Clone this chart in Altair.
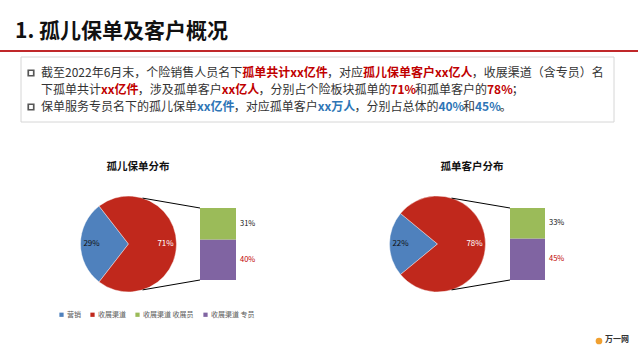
import math
import altair as alt
import pandas as pd

W, H = 638, 360
FONT = "Noto Sans CJK SC"

# ---------------- data ----------------
title_text = "1. 孤儿保单及客户概况"
categories = ["营销", "收展渠道", "收展渠道 收展员", "收展渠道 专员"]
palette = ["#4F81BD", "#C0281C", "#9BBB59", "#8064A2"]

pie_titles = ["孤儿保单分布", "孤单客户分布"]
pie_values = [[29, 71], [22, 78]]      # 营销, 收展渠道
bar_values = [[31, 40], [33, 45]]      # 收展渠道 收展员, 收展渠道 专员

para_lines = [
    [("截至2022年6月末，个险销售人员名下", "n"), ("孤单共计xx亿件", "r"), ("，对应", "n"),
     ("孤儿保单客户xx亿人", "r"), ("，收展渠道（含专员）名", "n")],
    [("下孤单共计", "n"), ("xx亿件", "r"), ("，涉及孤单客户", "n"), ("xx亿人", "r"),
     ("，分别占个险板块孤单的", "n"), ("71%", "r"), ("和孤单客户的", "n"), ("78%", "r"), ("；", "n")],
    [("保单服务专员名下的孤儿保单", "n"), ("xx亿件", "b"), ("，对应孤单客户", "n"), ("xx万人", "b"),
     ("，分别占总体的", "n"), ("40%", "b"), ("和", "n"), ("45%", "b"), ("。", "n")],
]
bullet_lines = [0, 2]
logo_text = "万一网"

# ---------------- layout ----------------
TEXT_X0 = 41
LINE_Y = [73, 90, 107]
FS = 12
KIND_STYLE = {"n": ("#333333", "normal"), "r": ("#C00000", "bold"), "b": ("#2E75B6", "bold")}

CENTERS = [(128.5, 244), (437.5, 244)]
R = 48
BAR_X = [(200, 236), (510, 545)]
BAR_TOP, BAR_BOT = 208, 280
LEGEND_X = [58, 368]
LEGEND_Y = 311
TITLE_POS = [(138, 167), (472, 167)]


def one(**kw):
    d = {"k": [0]}
    for key, val in kw.items():
        d[key] = [val]
    return pd.DataFrame(d)


def text_width(s, fs, bold):
    w = 0.0
    for ch in s:
        if ord(ch) >= 0x2E80:
            w += 1.0
        elif ch.isdigit():
            w += 0.575 if bold else 0.555
        elif ch == "x":
            w += 0.53 if bold else 0.49
        elif ch == "%":
            w += 0.9 if bold else 0.88
        elif ch == " ":
            w += 0.25
        else:
            w += 0.55
    return w * fs


layers = []

# title and red rule
layers.append(
    alt.Chart(one(t=title_text)).mark_text(
        align="left", baseline="middle", font=FONT, fontSize=21, fontWeight="bold", color="#111111"
    ).encode(x=alt.value(15), y=alt.value(32), text="t:N")
)
layers.append(
    alt.Chart(one()).mark_rule(color="#C0282A", strokeWidth=2).encode(
        x=alt.value(0), x2=alt.value(W), y=alt.value(51)
    )
)

# text box
layers.append(
    alt.Chart(one()).mark_rect(fill="#FFFFFF", stroke="#D6D6D6", strokeWidth=1).encode(
        x=alt.value(21), x2=alt.value(614), y=alt.value(57), y2=alt.value(122)
    )
)
for li in bullet_lines:
    layers.append(
        alt.Chart(one()).mark_point(shape="square", filled=False, size=30, stroke="#111111",
                                    strokeWidth=1.7).encode(x=alt.value(31), y=alt.value(LINE_Y[li]))
    )

for li, line in enumerate(para_lines):
    x = TEXT_X0
    for s, kind in line:
        col, wt = KIND_STYLE[kind]
        layers.append(
            alt.Chart(one(t=s)).mark_text(
                align="left", baseline="middle", font=FONT, fontSize=FS, fontWeight=wt, color=col
            ).encode(x=alt.value(x), y=alt.value(LINE_Y[li]), text="t:N")
        )
        x += text_width(s, FS, wt == "bold")

# pies, bars, connectors
yscale = alt.Scale(domain=[0, 1], range=[BAR_BOT, BAR_TOP], nice=False, zero=False)
cscale = alt.Scale(domain=categories, range=palette)

for i in range(2):
    cx, cy = CENTERS[i]
    field = "cat" if i == 0 else "cat2"
    chan = "color" if i == 0 else "fill"
    Ch = alt.Color if i == 0 else alt.Fill
    legend = alt.Legend(
        orient="none", legendX=LEGEND_X[i], legendY=LEGEND_Y, direction="horizontal", title=None,
        symbolType="square", symbolSize=18, symbolStrokeWidth=0, labelFontSize=7, labelFont=FONT,
        labelColor="#595959", columnPadding=8, labelOffset=2, padding=0
    )

    # pie title
    tx, ty = TITLE_POS[i]
    layers.append(
        alt.Chart(one(t=pie_titles[i])).mark_text(
            align="center", baseline="middle", font=FONT, fontSize=10.5, fontWeight="bold", color="#111111"
        ).encode(x=alt.value(tx), y=alt.value(ty), text="t:N")
    )

    vals = pie_values[i]
    pdf = pd.DataFrame({field: categories[:2], "v": vals, "ord": [0, 1],
                        "lab": [f"{v}%" for v in vals]})
    f = vals[0] / sum(vals)
    a0 = 1.5 * math.pi - f * math.pi
    theta = alt.Theta("v:Q", stack=True, scale=alt.Scale(range=[a0, a0 + 2 * math.pi]))
    layers.append(
        alt.Chart(pdf).mark_arc(outerRadius=R, stroke="white", strokeWidth=0.4).encode(
            theta=theta, order=alt.Order("ord:Q"), x=alt.value(cx), y=alt.value(cy),
            **{chan: Ch(f"{field}:N", scale=cscale, legend=legend)}
        )
    )
    layers.append(
        alt.Chart(pdf).mark_text(radius=37, font=FONT, fontSize=8, baseline="middle").encode(
            theta=theta, order=alt.Order("ord:Q"), x=alt.value(cx), y=alt.value(cy), text="lab:N",
            color=alt.condition(f"datum.{field} == '{categories[0]}'", alt.value("#111111"), alt.value("white"))
        )
    )

    # stacked bar (专员 at bottom, 收展员 on top)
    bv = bar_values[i]
    tot = sum(bv)
    bcats = [categories[3], categories[2]]
    bvals = [bv[1], bv[0]]
    y0, acc = [], 0
    for v in bvals:
        y0.append(acc / tot)
        acc += v
    y1 = [y0[1], acc / tot]
    bdf = pd.DataFrame({field: bcats, "v": bvals, "y0": y0, "y1": y1,
                        "mid": [(a + b) / 2 for a, b in zip(y0, y1)],
                        "lab": [f"{v}%" for v in bvals]})
    bx0, bx1 = BAR_X[i]
    layers.append(
        alt.Chart(bdf).mark_rect().encode(
            x=alt.value(bx0), x2=alt.value(bx1),
            y=alt.Y("y0:Q", scale=yscale, axis=None), y2="y1:Q",
            **{chan: Ch(f"{field}:N", scale=cscale, legend=legend)}
        )
    )
    layers.append(
        alt.Chart(bdf).mark_text(align="left", baseline="middle", font=FONT, fontSize=7.5).encode(
            x=alt.value(bx1 + 4), y=alt.Y("mid:Q", scale=yscale, axis=None), text="lab:N",
            color=alt.condition(f"datum.{field} == '{categories[3]}'", alt.value("#C00000"), alt.value("#111111"))
        )
    )

    # connector lines
    ang = math.radians(17)
    top_pt = (cx + R * math.sin(ang), cy - R * math.cos(ang))
    bot_pt = (cx + R * math.sin(ang), cy + R * math.cos(ang))
    for (px, py), by in [(top_pt, BAR_TOP), (bot_pt, BAR_BOT)]:
        layers.append(
            alt.Chart(one()).mark_rule(color="#000000", strokeWidth=1).encode(
                x=alt.value(px), y=alt.value(py), x2=alt.value(bx0), y2=alt.value(by)
            )
        )

# logo
layers.append(
    alt.Chart(one()).mark_point(shape="circle", filled=True, size=45, color="#F0A030", opacity=1).encode(
        x=alt.value(599), y=alt.value(341)
    )
)
layers.append(
    alt.Chart(one(t=logo_text)).mark_text(
        align="left", baseline="middle", font=FONT, fontSize=8, fontWeight="bold", color="#333333"
    ).encode(x=alt.value(605), y=alt.value(340), text="t:N")
)

chart = alt.layer(*layers).resolve_scale(theta="independent").properties(
    width=W, height=H, autosize=alt.AutoSizeParams(type="none"), padding=0, background="white"
).configure_view(stroke=None)

chart.save("out.html", embed_options={"renderer": "svg", "actions": False})
